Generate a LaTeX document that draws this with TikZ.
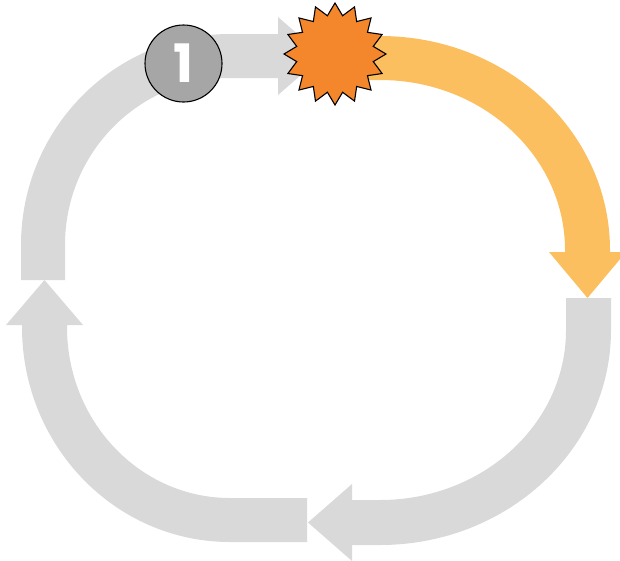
\documentclass[tikz,border=0pt]{standalone}
\usepackage{fontspec}
\usetikzlibrary{calc}
\newfontfamily\numfont{Poppins}
\definecolor{arrowgray}{HTML}{D9D9D9}
\definecolor{arroworange}{HTML}{FCBF5F}
\definecolor{burstorange}{HTML}{F4872B}
\definecolor{badgegray}{HTML}{A6A6A6}
\begin{document}
\begin{tikzpicture}[x=1pt,y=-1pt,
  grayarrow/.style={fill=arrowgray,draw=none},
  orangearrow/.style={fill=arroworange,draw=none},
  badge/.style={circle,fill=badgegray,draw=black,line width=1.1pt,minimum size=77pt,inner sep=0pt,text=white,font=\numfont\bfseries\fontsize{53}{53}\selectfont},
  burst/.style={fill=burstorange,draw=black,line width=1.1pt,line join=miter}]
\useasboundingbox (0,0) rectangle (620,560);

% top-left arrow (grey), tail at left, head to the right
\path[grayarrow] (21,280) -- (21,245)
  arc[start angle=180,end angle=270,x radius=209,y radius=211]
  -- (278,34) -- (278,17) -- (323,56) -- (278,95) -- (278,78) -- (230,78)
  arc[start angle=270,end angle=180,x radius=165,y radius=167]
  -- (65,280) -- cycle;

% top-right arrow (orange), head down
\path[orangearrow] (340,36) -- (380,36)
  arc[start angle=270,end angle=360,x radius=230,y radius=214]
  -- (610,252) -- (626,252) -- (587.5,298) -- (549,252) -- (565,252) -- (565,250)
  arc[start angle=360,end angle=270,x radius=185,y radius=170]
  -- (340,80) -- cycle;

% bottom-right arrow (grey), head to the left
\path[grayarrow] (566,298) -- (611,298) -- (611,330)
  arc[start angle=0,end angle=90,x radius=231,y radius=215]
  -- (352,545) -- (352,561) -- (308,522.5) -- (352,484) -- (352,500) -- (380,500)
  arc[start angle=90,end angle=0,x radius=186,y radius=170]
  -- cycle;

% bottom-left arrow (grey), head up
\path[grayarrow] (307,498) -- (307,542) -- (230,542)
  arc[start angle=90,end angle=180,x radius=208,y radius=215]
  -- (22,325) -- (6,325) -- (44.5,280) -- (83,325) -- (67,325) -- (67,327)
  arc[start angle=180,end angle=90,x radius=163,y radius=171]
  -- cycle;

% number badge
\node[badge] (badge) at (183.5,63.5) {1};

% starburst
\coordinate (burstc) at (335,54);
\draw[burst] ($(burstc)+(90:51)$)
  \foreach \k in {0,...,15} { -- ($(burstc)+({90+22.5*\k+11.25}:39)$) -- ($(burstc)+({90+22.5*(\k+1)}:51)$) } -- cycle;
\end{tikzpicture}
\end{document}
